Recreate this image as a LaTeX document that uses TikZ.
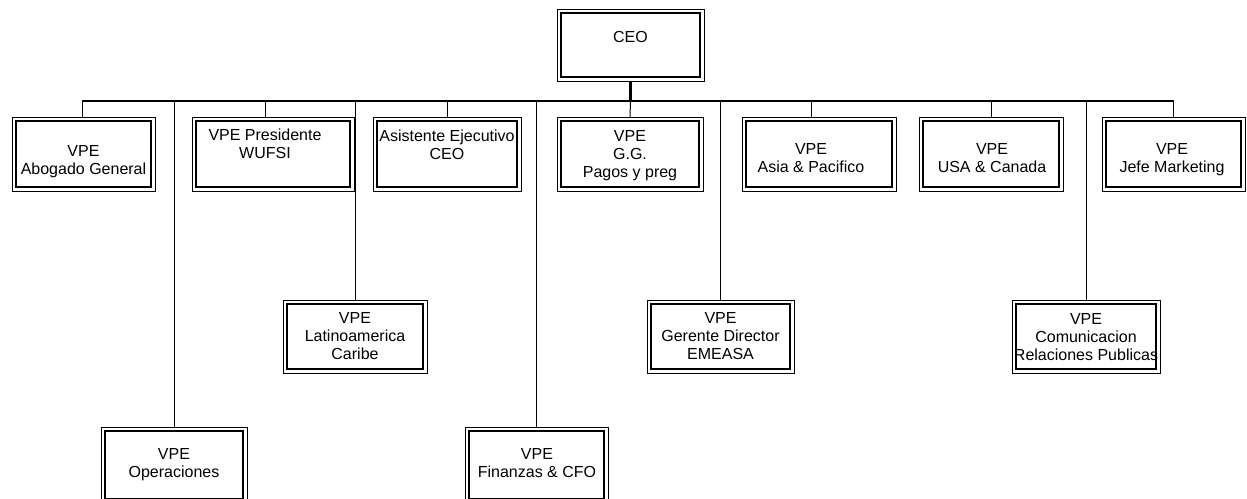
\documentclass[tikz,border=0pt]{standalone}
\usepackage{fontspec}
\setmainfont{Liberation Sans}
\newcommand\mkbox[5]{%
  \node[obox, minimum width={#4-#2}, minimum height={#5-#3}] (#1) at ({(#2+#4)/2},{(#3+#5)/2}) {};
  \draw[ibox] ([xshift=3.8pt,yshift=-3.8pt]#1.north west) rectangle ([xshift=-3.8pt,yshift=3.8pt]#1.south east);}
\begin{document}
\begin{tikzpicture}[x=1pt,y=-1pt,
  obox/.style={draw=black, line width=1pt, inner sep=0pt, outer sep=0pt, fill=white},
  ibox/.style={draw=black, line width=1.7pt},
  lbl/.style={anchor=north, inner sep=0pt, align=center, font=\fontsize{16}{18}\selectfont},
  bus/.style={draw=black, line width=2pt},
  stem/.style={draw=black, line width=2.5pt},
  br/.style={draw=black, line width=1pt}]
\useasboundingbox (0,0) rectangle (1247,498);
\clip (0,0) rectangle (1247,498);
\coordinate (busY) at (0,100.5);
% boxes
\mkbox{ceo}{557}{9}{704}{81}
\mkbox{abog}{12}{117}{155}{191}
\mkbox{wufsi}{192}{117}{354}{191}
\mkbox{asist}{373}{117}{521}{191}
\mkbox{gg}{557}{117}{703}{191}
\mkbox{asia}{742}{117}{896}{191}
\mkbox{usa}{919}{117}{1063}{191}
\mkbox{mkt}{1102}{117}{1245}{191}
\mkbox{latino}{283}{300}{427}{373}
\mkbox{emea}{647}{300}{794}{373}
\mkbox{comu}{1012}{300}{1160}{373}
\mkbox{oper}{101}{427}{247}{503}
\mkbox{fin}{465}{427}{608}{503}
% labels
\node[lbl] (ceoT) at (630.5,31) {CEO};
\node[lbl] (abogT) at (83.5,145) {VPE\\Abogado General};
\node[lbl] (wufsiT) at (265,129) {VPE Presidente\\WUFSI};
\node[lbl] (asistT) at (447,130) {Asistente Ejecutivo\\CEO};
\node[lbl] (ggT) at (630,130) {VPE\\G.G.\\Pagos y preg};
\node[lbl] (asiaT) at (811,143) {VPE\\Asia \& Pacifico};
\node[lbl] (usaT) at (992,143) {VPE\\USA \& Canada};
\node[lbl] (mktT) at (1172,143) {VPE\\Jefe Marketing};
\node[lbl] (latinoT) at (355,312) {VPE\\Latinoamerica\\Caribe};
\node[lbl] (emeaT) at (720.5,312) {VPE\\Gerente Director\\EMEASA};
\node[lbl] (comuT) at (1086,313) {VPE\\Comunicacion\\Relaciones Publicas};
\node[lbl] (operT) at (174,448) {VPE\\Operaciones};
\node[lbl] (finT) at (537,448) {VPE\\Finanzas \& CFO};
% connectors
\coordinate (wufsiB) at ([xshift=-8pt]wufsi.north);
\coordinate (asiaB) at ([xshift=-8pt]asia.north);
\coordinate (abogB) at ([xshift=-1.5pt]abog.north);
\coordinate (mktB) at (mkt.north);
\draw[bus] (abogB |- busY) -- (mktB |- busY);
\draw[stem] (ceo.south) -- (ceo.south |- busY);
\draw[br] (ceo.south |- busY) -- (gg.north);
\draw[br] (abogB |- busY) -- (abogB);
\draw[br] (wufsiB |- busY) -- (wufsiB);
\draw[br] (asist.north |- busY) -- (asist.north);
\draw[br] (asiaB |- busY) -- (asiaB);
\draw[br] (usa.north |- busY) -- (usa.north);
\draw[br] (mktB |- busY) -- (mktB);
\draw[br] (oper.north |- busY) -- (oper.north);
\draw[br] (latino.north |- busY) -- (latino.north);
\draw[br] (fin.north |- busY) -- (fin.north);
\draw[br] (emea.north |- busY) -- (emea.north);
\draw[br] (comu.north |- busY) -- (comu.north);
\end{tikzpicture}
\end{document}
